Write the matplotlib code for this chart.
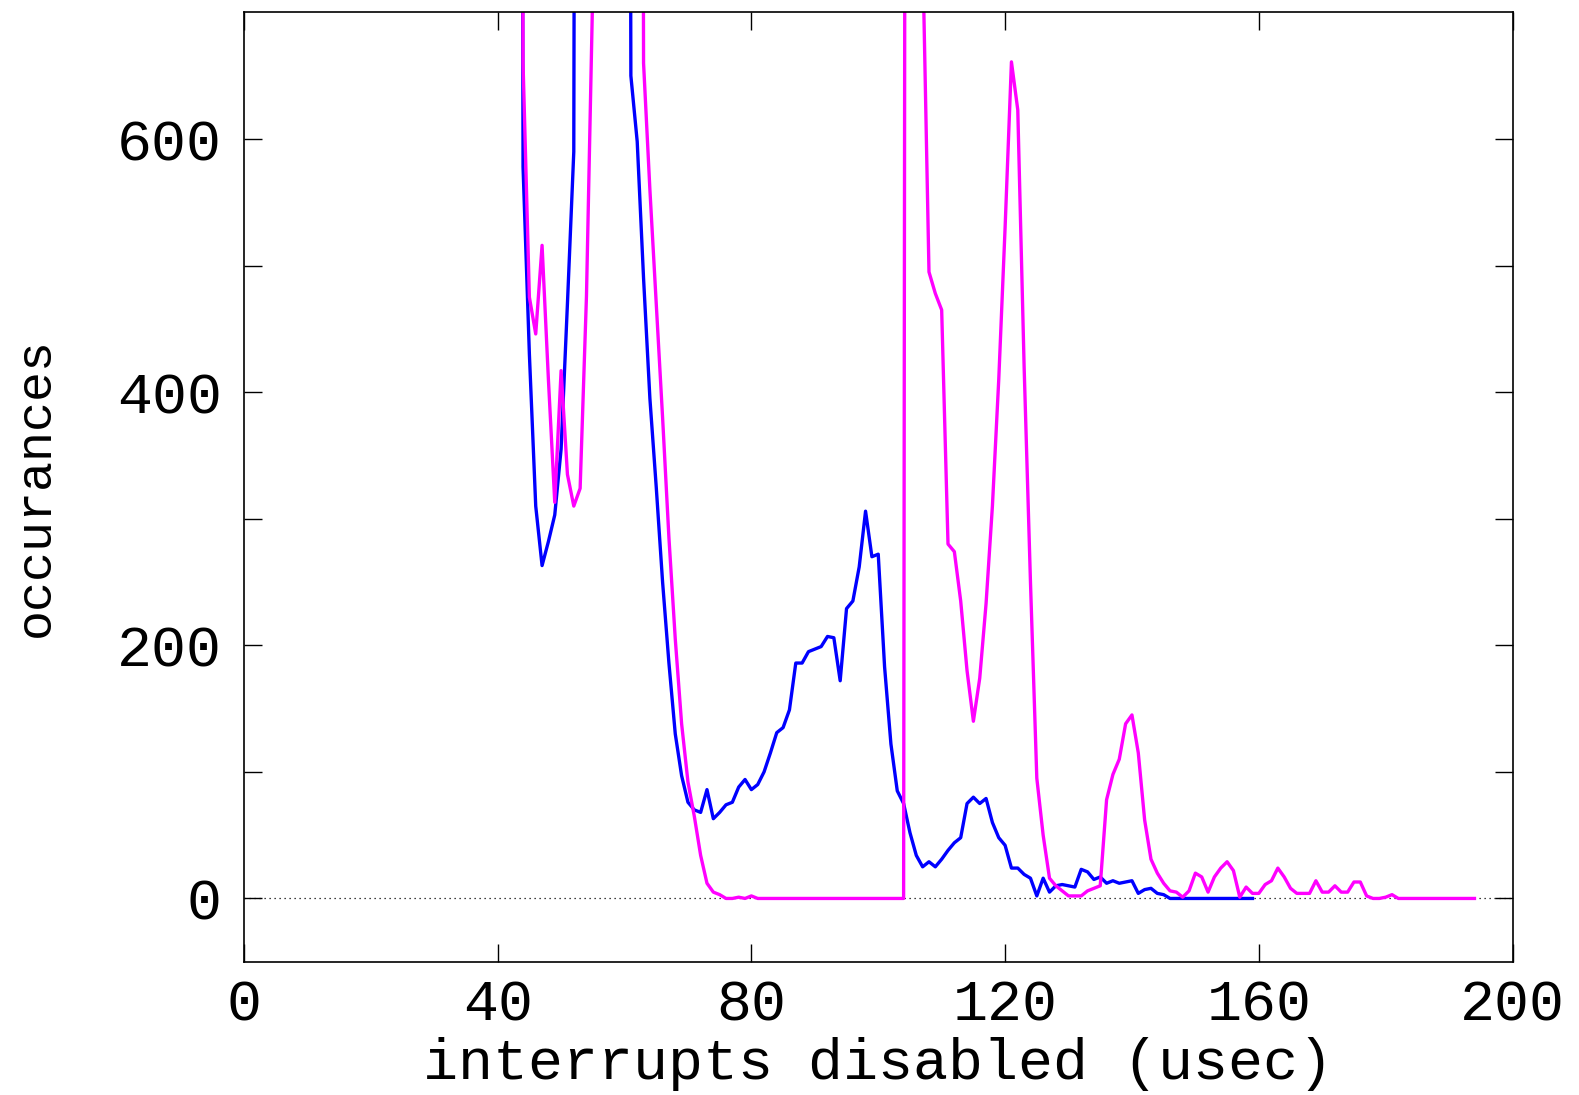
import numpy as np
import matplotlib.pyplot as plt

# histogram of interrupt-off times, 1 usec bins (values above 700 are off the chart)
blue_start = 43
blue = [3000, 578, 430, 310, 263, 282, 303, 355, 470, 590,
        3000, 3000, 3000, 3000, 3000, 3000, 3000, 3000, 650, 598,
        490, 395, 325, 250, 186, 130, 97, 76, 70, 68,
        86, 63, 68, 74, 76, 88, 94, 86, 90, 100,
        115, 131, 135, 149, 186, 186, 195, 197, 199, 207,
        206, 172, 229, 235, 262, 306, 270, 272, 183, 122,
        85, 75, 52, 34, 25, 29, 25, 31, 38, 44,
        48, 75, 80, 75, 79, 60, 48, 42, 24, 24,
        19, 16, 2, 16, 5, 10, 11, 10, 9, 23,
        21, 15, 17, 12, 14, 12, 13, 14, 4, 7,
        8, 4, 3, 0, 0, 0, 0, 0, 0, 0,
        0, 0, 0, 0, 0, 0, 0]

magenta_start = 43
magenta = [3000, 660, 475, 446, 516, 410, 313, 417, 335, 310,
           324, 476, 720, 3000, 3000, 3000, 3000, 3000, 3000, 3000,
           660, 560, 470, 380, 285, 205, 138, 92, 65, 34,
           12, 5, 3, 0, 0, 1, 0, 2, 0, 0,
           0, 0, 0, 0, 0, 0, 0, 0, 0, 0,
           0, 0, 0, 0, 0, 0, 0, 0, 0, 0,
           0, 0, 4000, 4000, 750, 495, 478, 465, 280, 274,
           235, 180, 140, 174, 233, 310, 410, 530, 661, 623,
           420, 250, 95, 50, 16, 10, 6, 2, 2, 2,
           6, 8, 10, 78, 98, 110, 138, 145, 115, 62,
           31, 20, 12, 6, 5, 1, 6, 20, 17, 5,
           17, 24, 29, 22, 1, 9, 4, 4, 11, 14,
           24, 17, 8, 4, 4, 4, 14, 5, 5, 10,
           5, 5, 13, 13, 2, 0, 0, 1, 3, 0,
           0, 0, 0, 0, 0, 0, 0, 0, 0, 0,
           0, 0]

xticks = [0, 40, 80, 120, 160, 200]
yticks = [0, 200, 400, 600]
yminor = [100, 300, 500]

plt.rcParams['font.family'] = ['Liberation Mono', 'DejaVu Sans Mono']

fig = plt.figure(figsize=(15.79, 10.95), dpi=100)
ax = fig.add_axes([0.1545, 0.1217, 0.8034, 0.8669])

ax.axhline(0, color='black', lw=0.9, ls=(0, (1, 3)), zorder=1)
ax.plot(np.arange(blue_start, blue_start + len(blue)), blue, color='#0000ff', lw=2.4)
ax.plot(np.arange(magenta_start, magenta_start + len(magenta)), magenta, color='#ff00ff', lw=2.4)

ax.set_xlim(0, 200)
ax.set_ylim(-50, 700)
ax.set_xticks(xticks)
ax.set_yticks(yticks)
ax.set_yticks(yminor, minor=True)
ax.tick_params(which='both', direction='in', top=True, right=True,
               length=13, width=1.0, labelsize=42, pad=12)
ax.tick_params(axis='y', pad=16)
for s in ax.spines.values():
    s.set_linewidth(1.2)

ax.set_xlabel('interrupts disabled (usec)', fontsize=42, labelpad=3)
ax.set_ylabel('occurances', fontsize=36)
ax.yaxis.set_label_coords(-0.146, 0.5)

plt.savefig('out.png', dpi=100)
